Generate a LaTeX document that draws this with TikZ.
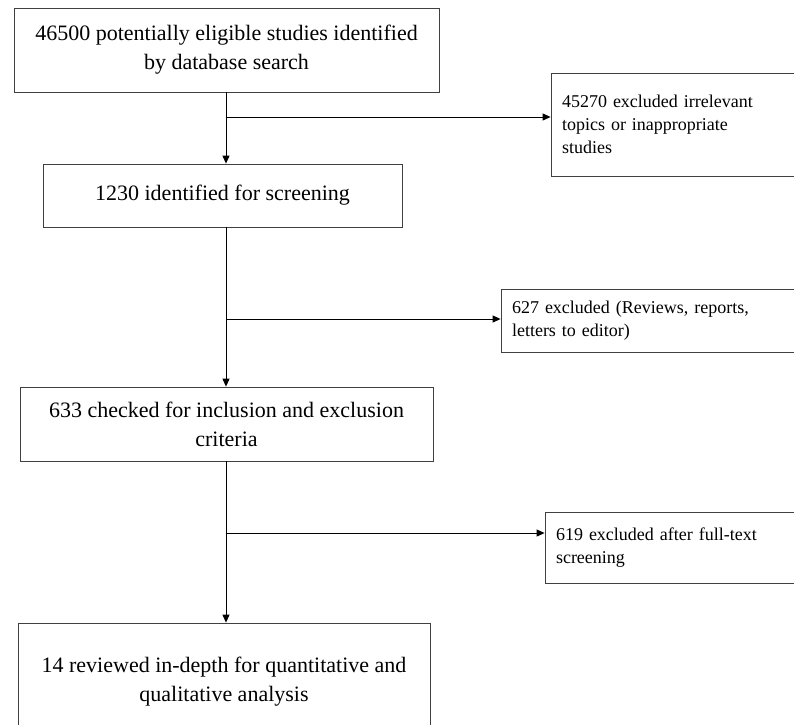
\documentclass[tikz,border=0pt]{standalone}
\usepackage{fontspec}
\setmainfont{Liberation Serif}
\usetikzlibrary{arrows.meta}

\begin{document}
\begin{tikzpicture}[x=1pt,y=-1pt,>={Stealth[length=8pt,width=7pt,inset=0pt]},
  stage/.style={draw=black!75,line width=0.8pt,align=center,inner sep=0pt,
                font=\fontsize{22}{29}\selectfont},
  excl/.style={draw=black!75,line width=0.8pt,align=left,inner xsep=11pt,
               inner ysep=0pt,font=\fontsize{18}{23}\selectfont},
  link/.style={line width=0.9pt,->}]

  \path[use as bounding box,clip] (0,0) rectangle (794,724);

  \def\Cx{226};

  \begin{scope}   % hlavni sloupec

    \node[stage,minimum width=425,minimum height=84] (s1) at (226.5,50)
         {46500 potentially eligible studies identified\\by database search};
    \node[stage,minimum width=359,minimum height=63] (s2) at (222.5,195.5)
         {1230 identified for screening};
    \node[stage,minimum width=413,minimum height=74] (s3) at (226.5,424)
         {633 checked for inclusion and exclusion\\criteria};
    \node[stage,minimum width=412,minimum height=117] (s4) at (224,681.5)
         {14 reviewed in-depth for quantitative and\\qualitative analysis};

  \end{scope}

  \begin{scope}   % vyrazene studie

    \node[excl,text width=224,minimum height=103] (x1) at (674,124.5)
         {45270 excluded irrelevant\\topics or inappropriate\\studies};
    \node[excl,text width=274,minimum height=63] (x2) at (649,320.5)
         {627 excluded (Reviews, reports,\\letters to editor)};
    \node[excl,text width=230,minimum height=71] (x3) at (671,547.5)
         {619 excluded after full-text\\screening};

  \end{scope}

  \coordinate (b1) at (\Cx,117);
  \coordinate (b2) at (\Cx,319);
  \coordinate (b3) at (\Cx,533);

  \draw[link] (s1.south -| b1) -- (s2.north -| b1);
  \draw[link] (s2.south -| b1) -- (s3.north -| b1);
  \draw[link] (s3.south -| b1) -- (s4.north -| b1);

  \draw[link] (b1) -- (b1 -| x1.west);
  \draw[link] (b2) -- (b2 -| x2.west);
  \draw[link] (b3) -- (b3 -| x3.west);

\end{tikzpicture}
\end{document}
